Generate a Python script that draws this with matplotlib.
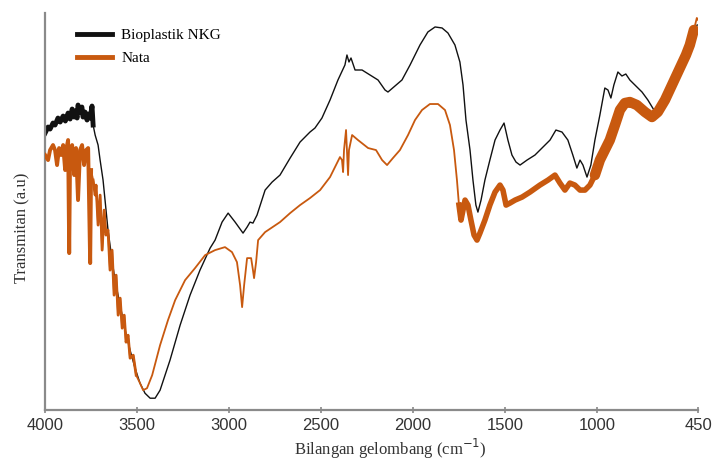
import numpy as np
import matplotlib
matplotlib.use("Agg")
import matplotlib.pyplot as plt

# ---- data: wavenumber (cm^-1) and transmittance (a.u.) ----
nkg_wn = [4000, 3984, 3973, 3957, 3946, 3930, 3918, 3902, 3890, 3875, 3864, 3853, 3842, 3837,
          3826, 3821, 3810, 3800, 3794, 3783, 3772, 3766, 3755,
          3745, 3739, 3728, 3712, 3701, 3685, 3674, 3658, 3636, 3620, 3592, 3565, 3538, 3511,
          3484, 3457, 3429, 3402, 3375, 3321, 3266, 3212, 3158, 3103, 3076, 3038, 3005, 2967,
          2924, 2902, 2886, 2870, 2848, 2804, 2766, 2723, 2668, 2614, 2560, 2533, 2495, 2451,
          2408, 2370, 2359, 2348, 2337, 2315, 2277, 2234, 2190, 2152, 2136, 2098, 2060, 2016,
          1962, 1919, 1880, 1842, 1810, 1772, 1745, 1728, 1712, 1690, 1674, 1658, 1647, 1630,
          1609, 1582, 1554, 1527, 1505, 1484, 1462, 1440, 1418, 1380, 1337, 1299, 1255, 1223,
          1190, 1158, 1131, 1109, 1092, 1076, 1054, 1033, 1011, 984, 957, 940, 924, 908, 886,
          864, 843, 821, 788, 755, 723, 690, 660, 630, 600, 560, 520, 495, 470, 455]
nkg_t = [277, 283, 281, 287, 285, 292, 288, 294, 289, 297, 291, 301, 293, 299,
         292, 305, 298, 303, 293, 298, 290, 296, 292,
         304, 285, 275, 265, 250, 230, 210, 180, 150, 130, 105, 80, 60, 42,
         27, 17, 12, 12, 20, 50, 85, 115, 140, 162, 170, 188, 197, 188,
         177, 183, 188, 187, 195, 220, 228, 235, 252, 268, 278, 282, 292, 310,
         330, 345, 355, 348, 352, 340, 340, 335, 330, 320, 318, 324, 330, 345,
         365, 378, 383, 382, 377, 365, 348, 325, 290, 260, 230, 205, 198, 210,
         230, 250, 270, 280, 287, 270, 255, 248, 245, 250, 255, 262, 270, 280,
         278, 270, 255, 242, 250, 245, 233, 245, 270, 295, 322, 320, 312, 325, 338,
         334, 336, 330, 324, 318, 310, 300, 300, 310, 322, 335, 350, 362, 378, 385]

nata_wn = [4000, 3984, 3973, 3957, 3946, 3935, 3924, 3913, 3902, 3891, 3886, 3875, 3869, 3864,
           3853, 3842, 3832, 3821, 3810, 3799, 3788, 3777, 3766, 3755, 3750, 3739, 3728, 3723,
           3712, 3701, 3690, 3679, 3669, 3658, 3647, 3636, 3625, 3614, 3603, 3592, 3581, 3570,
           3560, 3549, 3538, 3521, 3505, 3484, 3467, 3446, 3418, 3375, 3332, 3293, 3239, 3185,
           3130, 3076, 3022, 2984, 2957, 2940, 2929, 2918, 2902, 2880, 2870, 2864, 2853, 2842,
           2804, 2723, 2668, 2614, 2560, 2505, 2451, 2413, 2397, 2386, 2380, 2375, 2364, 2359,
           2353, 2348, 2331, 2299, 2244, 2201, 2168, 2141, 2109, 2071, 2027, 1989, 1951, 1908,
           1864, 1826, 1799, 1777, 1761, 1750, 1739, 1728, 1717, 1701, 1685, 1668, 1652, 1636,
           1609, 1582, 1554, 1527, 1511, 1494, 1473, 1445, 1407, 1364, 1310, 1266, 1228, 1201,
           1174, 1147, 1120, 1092, 1065, 1038, 1011, 984, 957, 930, 902, 875, 848, 821,
           783, 739, 701, 669, 630, 592, 549, 516, 495, 473, 457, 450]
nata_t = [255, 250, 260, 265, 260, 245, 262, 255, 265, 240, 260, 270, 157, 260,
          265, 235, 262, 210, 260, 265, 245, 260, 262, 147, 240, 230, 215, 225,
          185, 215, 160, 200, 175, 180, 140, 160, 115, 135, 95, 112, 82, 95,
          68, 75, 52, 55, 35, 27, 20, 22, 35, 65, 90, 110, 130, 142,
          155, 160, 163, 158, 148, 125, 103, 125, 152, 152, 140, 132, 148, 170,
          178, 188, 197, 205, 212, 220, 233, 247, 253, 250, 238, 260, 280, 260,
          235, 260, 275, 270, 262, 260, 250, 245, 252, 260, 275, 290, 300, 306,
          306, 300, 285, 260, 230, 205, 190, 200, 210, 205, 190, 175, 170, 177,
          190, 205, 218, 225, 220, 205, 207, 210, 213, 218, 225, 230, 235, 227,
          220, 227, 225, 220, 220, 225, 235, 250, 260, 270, 285, 300, 307, 308,
          305, 298, 293, 298, 310, 325, 342, 355, 365, 380, 392, 390]

legend_labels = ["Bioplastik NKG", "Nata"]
x_ticks = [4000, 3500, 3000, 2500, 2000, 1500, 1000, 450]
x_label = "Bilangan gelombang (cm$^{-1}$)"
y_label = "Transmitan (a.u)"

BLACK = "#111111"
ORANGE = "#c8590f"

nkg_wn = np.array(nkg_wn); nkg_t = np.array(nkg_t)
nata_wn = np.array(nata_wn); nata_t = np.array(nata_t)

fig = plt.figure(figsize=(7.16, 4.63), dpi=100)
ax = fig.add_axes([0.063, 0.114, 0.912, 0.858])

# black spectrum (thicker in noisy high-wavenumber region)
ax.plot(nkg_wn, nkg_t, color=BLACK, lw=1.0, zorder=2, label=legend_labels[0])
m = nkg_wn >= 3735
ax.plot(nkg_wn[m], nkg_t[m], color=BLACK, lw=3.5, zorder=2)

# orange spectrum
ax.plot(nata_wn, nata_t, color=ORANGE, lw=1.3, zorder=3, label=legend_labels[1])
m1 = (nata_wn >= 3740) & (nata_wn <= 4000)
ax.plot(nata_wn[m1], nata_t[m1], color=ORANGE, lw=2.8, zorder=3)
m1b = (nata_wn >= 3500) & (nata_wn < 3740)
ax.plot(nata_wn[m1b], nata_t[m1b], color=ORANGE, lw=2.0, zorder=3)
m2 = (nata_wn <= 1760) & (nata_wn >= 1000)
ax.plot(nata_wn[m2], nata_t[m2], color=ORANGE, lw=4.0, zorder=3)
m3 = (nata_wn <= 1020) & (nata_wn >= 470)
ax.plot(nata_wn[m3], nata_t[m3], color=ORANGE, lw=7.5, zorder=3, solid_capstyle="round")

ax.set_xlim(4000, 450)
ax.set_ylim(0, 397)
ax.set_xticks(x_ticks)
ax.set_xticklabels([str(v) for v in x_ticks], fontfamily="Liberation Sans", fontsize=12, color="#333333")
ax.set_yticks([])
ax.tick_params(axis="x", direction="inout", length=5, color="#888888", width=1.2, pad=3)

for s in ["top", "right"]:
    ax.spines[s].set_visible(False)
for s in ["left", "bottom"]:
    ax.spines[s].set_color("#8a8a8a")
    ax.spines[s].set_linewidth(1.6)

ax.set_xlabel(x_label, fontfamily="Liberation Serif", fontsize=12, color="#333333")
ax.set_ylabel(y_label, fontfamily="Liberation Serif", fontsize=12, color="#333333")
ax.xaxis.set_label_coords(0.528, -0.068)
ax.yaxis.set_label_coords(-0.022, 0.458)

leg = ax.legend(loc="upper left", bbox_to_anchor=(0.028, 0.995), frameon=False,
                prop={"family": "Liberation Serif", "size": 11}, handlelength=2.3,
                handletextpad=0.6, labelspacing=0.6)
for line in leg.get_lines():
    line.set_linewidth(3.5)

fig.savefig("out.png", dpi=100)
